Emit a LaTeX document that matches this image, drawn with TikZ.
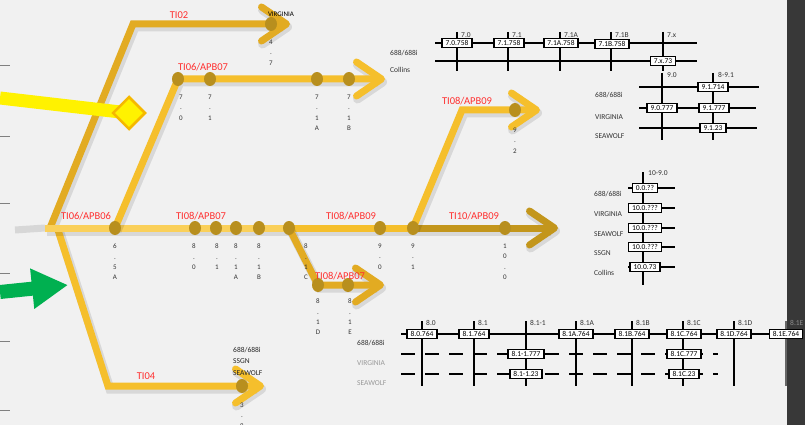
\documentclass[tikz,border=0pt]{standalone}
\usepackage{fontspec}
\setmainfont{Carlito}
\usetikzlibrary{arrows.meta, shapes.geometric, calc}

\definecolor{railgold}{HTML}{F5BF2C}
\definecolor{raillight}{HTML}{FAD05A}
\definecolor{raildark}{HTML}{E2AB22}
\definecolor{raildeep}{HTML}{C3961C}
\definecolor{stopgold}{HTML}{B88F1E}
\definecolor{tired}{HTML}{FF3030}
\definecolor{greenarrow}{HTML}{00B050}
\definecolor{diamondedge}{HTML}{F5B800}
\definecolor{paper}{HTML}{F1F1F1}

\tikzset{
  rail/.style={line width=7pt, draw=railgold,
    preaction={draw=black, draw opacity=0.10, line width=9pt, transform canvas={xshift=2pt, yshift=-3pt}}},
  railhead/.style={rail, -{Straight Barb[length=25pt,width=34pt,round]}},
  stop/.style={ellipse, fill=stopgold, minimum width=12pt, minimum height=14pt, inner sep=0pt},
  stack/.style={font=\fontsize{7}{10.2}\selectfont, align=center, anchor=north, inner sep=0pt, text=black!80},
  tiname/.style={font=\fontsize{10.5}{12}\selectfont, text=tired, inner sep=0pt},
  rowname/.style={font=\fontsize{7.5}{9}\selectfont, anchor=west, inner sep=0pt, text=black!80},
  colname/.style={font=\fontsize{7.5}{9}\selectfont, anchor=west, inner sep=0pt, text=black!80},
  cell/.style={draw=black, line width=1.3pt, fill=white, font=\fontsize{7.5}{8}\selectfont, inner xsep=3.5pt, inner ysep=1pt, minimum height=9pt},
  tabline/.style={line width=1.4pt},
}

\begin{document}
\begin{tikzpicture}[x=1pt, y=-1pt]
    \useasboundingbox (0,0) rectangle (805,425);
    \fill[paper] (0,0) rectangle (805,425);
    \fill[black!78] (787,0) rectangle (805,425);
    \foreach \y in {66,136,203,273,341,410}
        \draw[gray, line width=1pt] (0,\y) -- (10,\y);

    \coordinate (trunk0) at (45,228);
    \coordinate (p65) at (115,228);
    \coordinate (p80) at (195,228);
    \coordinate (p81) at (216,228);
    \coordinate (p81a) at (236,228);
    \coordinate (p81b) at (259,228);
    \coordinate (p81c) at (289,228);
    \coordinate (p90) at (380,228);
    \coordinate (p91) at (413,228);
    \coordinate (p100) at (505,228);
    \coordinate (trunk1) at (558,228);

    \coordinate (b02a) at (50,228);
    \coordinate (b02b) at (133,24);
    \coordinate (p47) at (271,24);
    \coordinate (tip02) at (290,24);

    \coordinate (p70) at (178,79);
    \coordinate (p71) at (210,79);
    \coordinate (p71a) at (317,79);
    \coordinate (p71b) at (349,79);
    \coordinate (tip07) at (385,79);

    \coordinate (b09) at (462,110);
    \coordinate (p92) at (515,110);
    \coordinate (tip09) at (540,110);

    \coordinate (p81d) at (318,285);
    \coordinate (p81e) at (348,285);
    \coordinate (tip08) at (384,285);

    \coordinate (b04a) at (58,230);
    \coordinate (b04b) at (108,386);
    \coordinate (p38) at (242,386);
    \coordinate (tip04) at (264,386);

    \draw[black!25, line width=7pt, draw opacity=0.5] (15,230) -- (trunk0);
    \draw[railhead, draw=raildark] (b02a) -- (b02b) -- (tip02);
    \draw[railhead] (b04a) -- (b04b) -- (tip04);
    \draw[rail, draw=raillight] (trunk0) -- (p81c);
    \draw[rail] (p81c) -- (p91);
    \draw[railhead, draw=raildeep] (p91) -- (trunk1);
    \draw[railhead] (p65) -- (p70) -- (tip07);
    \draw[railhead] (p91) -- (b09) -- (tip09);
    \draw[railhead, draw=raildark] (p81c) -- (p81d) -- (tip08);

    \coordinate (yel0) at (0,98);
    \coordinate (yel1) at (129,113);
    \draw[line width=13pt, draw=yellow] (yel0) -- (yel1);
    \node[diamond, draw=diamondedge, fill=yellow, line width=2.5pt, minimum width=33pt, minimum height=33pt, inner sep=0pt] (entry) at (yel1) {};

    \coordinate (grn0) at (0,292);
    \coordinate (grn1) at (68,285);
    \draw[line width=14pt, draw=greenarrow, -{Triangle[length=36pt,width=38pt]}] (grn0) -- (grn1);

    \foreach \p in {p65,p80,p81,p81a,p81b,p81c,p90,p91,p100,p47,p70,p71,p71a,p71b,p92,p81d,p81e,p38}
        \node[stop] (d\p) at (\p) {};

    \node[tiname] (t02) at (179,15) {TI02};
    \node[tiname] (t0607) at (203,67) {TI06/APB07};
    \node[tiname] (t0606) at (86,216) {TI06/APB06};
    \node[tiname] (t0807) at (201,216) {TI08/APB07};
    \node[tiname] (t0809) at (351,216) {TI08/APB09};
    \node[tiname] (t1009) at (474,216) {TI10/APB09};
    \node[tiname] (t0809b) at (467,101) {TI08/APB09};
    \node[tiname] (t0807b) at (340,276) {TI08/APB07};
    \node[tiname] (t04) at (146,376) {TI04};

    \node[font=\fontsize{7}{8}\selectfont, inner sep=0pt] (v02) at (281,14) {VIRGINIA};
    \node[stack] at (271,40) {4\\.\\7};
    \node[stack] at (181,95) {7\\.\\0};
    \node[stack] at (210,95) {7\\.\\1};
    \node[stack] at (317,95) {7\\.\\1\\A};
    \node[stack] at (349,95) {7\\.\\1\\B};
    \node[stack] at (515,128) {9\\.\\2};
    \node[stack] at (115,244) {6\\.\\5\\A};
    \node[stack] at (194,244) {8\\.\\0};
    \node[stack] at (217,244) {8\\.\\1};
    \node[stack] at (236,244) {8\\.\\1\\A};
    \node[stack] at (259,244) {8\\.\\1\\B};
    \node[stack] at (306,244) {8\\.\\1\\C};
    \node[stack] at (380,244) {9\\.\\0};
    \node[stack] at (413,244) {9\\.\\1};
    \node[stack] at (505,244) {1\\0\\.\\0};
    \node[stack] at (318,299) {8\\.\\1\\D};
    \node[stack] at (350,299) {8\\.\\1\\E};
    \node[stack] at (242,403) {3\\.\\8};
    \node[font=\fontsize{7.5}{11.5}\selectfont, align=left, anchor=north west, inner sep=0pt, text=black!85] (cls04) at (233,347) {688/688i\\SSGN\\SEAWOLF};

    % block 7
    \foreach \y in {43,61}
        \draw[tabline] (435,\y) -- (697,\y);
    \foreach \x/\c in {457/7.0,508/7.1,560/7.1A,611/7.1B,663/7.x} {
        \draw[tabline] (\x,32) -- (\x,71);
        \node[colname] at (\x+4,35) {\c};
    }
    \node[cell] at (457,43) {7.0.758};
    \node[cell] at (509,43) {7.1.758};
    \node[cell] at (561,43) {7.1A.758};
    \node[cell] at (612,44) {7.1B.758};
    \node[cell] at (663,61) {7.x.73};
    \node[rowname] at (390,53) {688/688i};
    \node[rowname] at (390,70) {Collins};

    % block 9
    \draw[tabline] (639,87) -- (759,87);
    \draw[tabline] (639,108) -- (756,108);
    \draw[tabline] (639,128) -- (757,128);
    \foreach \x/\c in {662/9.0,713/8-9.1} {
        \draw[tabline] (\x,73) -- (\x,140);
        \node[colname] at (\x+5,75) {\c};
    }
    \node[cell] at (713,87) {9.1.714};
    \node[cell] at (662,108) {9.0.777};
    \node[cell] at (714,108) {9.1.777};
    \node[cell] at (713,128) {9.1.23};
    \node[rowname] at (595,95) {688/688i};
    \node[rowname] at (595,117) {VIRGINIA};
    \node[rowname] at (595,136) {SEAWOLF};

    % block 10
    \draw[tabline] (643,172) -- (643,285);
    \node[colname] at (648,173) {10-9.0};
    \foreach \y/\c/\r [count=\i] in {188/0.0.??/688\slash 688i,208/10.0.???/VIRGINIA,228/10.0.???/SEAWOLF,247/10.0.???/SSGN,267/10.0.73/Collins} {
        \draw[tabline] (628,\y) -- (675,\y);
        \node[cell] (c10\i) at (645,\y) {\c};
        \node[rowname] at (594,\y+6) {\r};
    }

    % block 8
    \draw[tabline] (401,334) -- (785,334);
    \foreach \y in {354,374}
        \draw[tabline, dash pattern=on 14pt off 10pt] (401,\y) -- (718,\y);
    \foreach \x/\c in {422/8.0,474/8.1,526/8.1-1,576/8.1A,632/8.1B,683/8.1C,734/8.1D} {
        \draw[tabline] (\x,321) -- (\x,386);
        \node[colname] at (\x+4,323) {\c};
    }
    \draw[tabline, black!60] (786,321) -- (786,386);
    \node[colname, text=black!45] at (790,323) {8.1E};
    \foreach \x/\c in {422/8.0.764,474/8.1.764,576/8.1A.764,632/8.1B.764,684/8.1C.764,734/8.1D.764,786/8.1E.764}
        \node[cell] at (\x,334) {\c};
    \node[cell] at (526,354) {8.1-1.777};
    \node[cell] at (684,354) {8.1C.777};
    \node[cell] at (526,374) {8.1-1.23};
    \node[cell] at (684,374) {8.1C.23};
    \node[rowname] at (357,343) {688/688i};
    \node[rowname, text=black!40] at (357,383) {SEAWOLF};
    \node[rowname, text=black!40] at (357,363) {VIRGINIA};
\end{tikzpicture}
\end{document}
